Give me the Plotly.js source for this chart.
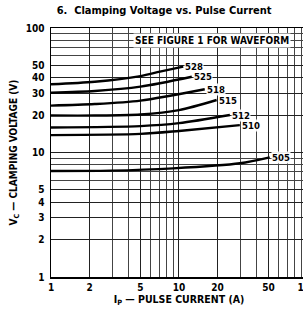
<!DOCTYPE html>
<html><head><meta charset="utf-8">
<script src="https://cdn.plot.ly/plotly-3.0.1.min.js"></script>
<style>html,body{margin:0;padding:0;overflow:hidden;background:#fff;}#c{width:312px;height:315px;}</style>
</head><body><div id="c"></div>
<script>
// Data (pulse current in A, clamping voltage in V)
const seriesNames = ['528','525','518','515','512','510','505'];
const I528 = [1, 2.2, 5, 7.1, 10.8];
const V528 = [35.3, 37, 41.1, 44.6, 48.9];
const I525 = [1, 2.2, 5, 12.6];
const V525 = [30.2, 31.2, 33.8, 40.6];
const I518 = [1, 2.2, 5, 15.9];
const V518 = [23.8, 24.5, 26.1, 32.2];
const I515 = [1, 2.2, 5, 10, 19.7];
const V515 = [19.8, 19.8, 20.2, 21.9, 26.4];
const I512 = [1, 5, 10, 25];
const V512 = [15.9, 16.3, 17.2, 20];
const I510 = [1, 5, 10, 29.9];
const V510 = [13.8, 14.1, 14.9, 16.6];
const I505 = [1, 2.9, 9, 29.9, 51.2];
const V505 = [7.1, 7.15, 7.46, 8.19, 9.15];
const xTickVals = [1, 2, 5, 10, 20, 50, 100];
const yTickVals = [1, 2, 3, 4, 5, 10, 20, 30, 40, 50, 100];

const Is = [I528, I525, I518, I515, I512, I510, I505];
const Vs = [V528, V525, V518, V515, V512, V510, V505];

const FONT = 'DejaVu Sans Condensed, Liberation Sans Narrow, sans-serif';

const traces = seriesNames.map((n, k) => ({
  x: Is[k], y: Vs[k], type: 'scatter', mode: 'lines', name: n,
  line: {color: '#000', width: 2.4, shape: 'spline', smoothing: 0.8},
  hoverinfo: 'skip', showlegend: false
}));

const annotations = seriesNames.map((n, k) => ({
  x: Math.log10(Is[k][Is[k].length-1]), y: Math.log10(Vs[k][Vs[k].length-1]),
  xref: 'x', yref: 'y', text: '<b>' + n + '</b>', showarrow: false,
  xanchor: 'left', yanchor: 'middle', xshift: 1,
  font: {family: FONT, size: 9.5, color: '#000'}, bgcolor: 'rgba(255,255,255,0.9)', borderpad: 0
}));
annotations.push({
  x: Math.log10(18), y: Math.log10(78.7), xref: 'x', yref: 'y',
  text: '<b>SEE FIGURE 1 FOR WAVEFORM</b>', showarrow: false,
  xanchor: 'center', yanchor: 'middle', bgcolor: '#fff', borderpad: 1,
  font: {family: FONT, size: 10, color: '#000'}
});

const layout = {
  width: 312, height: 315,
  margin: {l: 51, r: 5, t: 28, b: 38},
  paper_bgcolor: '#fff', plot_bgcolor: '#fff',
  title: {text: '<b>6.  Clamping Voltage vs. Pulse Current</b>', xref: 'container', x: 0.526, xanchor: 'center',
          yref: 'container', y: 0.968, yanchor: 'middle', font: {family: FONT, size: 11, color: '#000'}},
  xaxis: {
    type: 'log', range: [0, 2.0005], tickvals: xTickVals, ticktext: xTickVals.map(v => '<b>' + v + '</b>'),
    ticklabeloverflow: 'allow',
    showgrid: true, gridcolor: '#222', gridwidth: 1,
    minor: {dtick: 'D1', showgrid: true, gridcolor: '#444', gridwidth: 1, ticks: ''},
    showline: true, mirror: true, linecolor: '#000', linewidth: 1.5, ticks: '', zeroline: false,
    tickfont: {family: FONT, size: 10, color: '#000'},
    title: {text: '<b>I<sub>P</sub> — PULSE CURRENT (A)</b>', font: {family: FONT, size: 10.5, color: '#000'}, standoff: 4}
  },
  yaxis: {
    type: 'log', range: [0, 2], tickvals: yTickVals, ticktext: yTickVals.map(v => '<b>' + v + '</b>'),
    ticklabeloverflow: 'allow',
    showgrid: true, gridcolor: '#222', gridwidth: 1,
    minor: {dtick: 'D1', showgrid: true, gridcolor: '#444', gridwidth: 1, ticks: ''},
    showline: true, mirror: true, linecolor: '#000', linewidth: 1.5, ticks: '', zeroline: false,
    tickfont: {family: FONT, size: 10, color: '#000'}, ticklabelstandoff: 3,
    title: {text: '<b>V<sub>C</sub> — CLAMPING VOLTAGE (V)</b>', font: {family: FONT, size: 10, color: '#000'}, standoff: 6}
  },
  annotations: annotations
};

Plotly.newPlot('c', traces, layout, {displayModeBar: false, staticPlot: true});
</script></body></html>
